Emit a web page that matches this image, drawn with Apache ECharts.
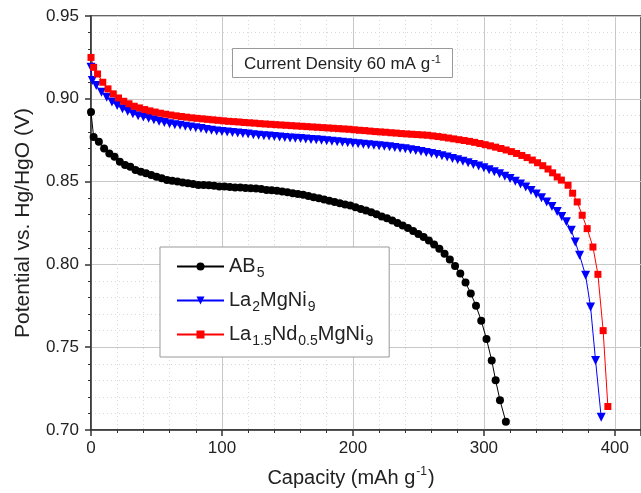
<!DOCTYPE html>
<html>
<head>
<meta charset="utf-8">
<script src="https://cdn.jsdelivr.net/npm/echarts@6/dist/echarts.min.js"></script>
<style>
  html, body { margin: 0; padding: 0; background: #fff; }
  #chart { width: 641px; height: 493px; }
</style>
</head>
<body>
<div id="chart"></div>
<script>
// Discharge curves: capacity (mAh g-1) vs potential (V vs. Hg/HgO)
const seriesNames = ['AB5', 'La2MgNi9', 'La1.5Nd0.5MgNi9'];

const ab5 = [
  [0,0.892],[2,0.877],[6,0.874],[10,0.870],[14,0.867],[18,0.865],[22,0.862],[26,0.860],
  [30,0.859],[34,0.857],[38,0.856],[42,0.855],[46,0.854],[50,0.853],[54,0.852],[58,0.851],
  [62,0.8505],[66,0.850],[70,0.8495],[74,0.849],[78,0.8485],[82,0.848],[86,0.848],[90,0.8478],
  [94,0.8475],[98,0.847],[102,0.847],[106,0.8468],[110,0.8465],[114,0.8465],[118,0.8462],[122,0.846],
  [126,0.8458],[130,0.8455],[134,0.845],[138,0.8448],[142,0.8445],[146,0.844],[150,0.8435],[154,0.843],
  [158,0.8425],[162,0.842],[166,0.8413],[170,0.8405],[174,0.840],[178,0.8392],[182,0.8385],[186,0.8377],
  [190,0.837],[194,0.8362],[198,0.8355],[202,0.8345],[206,0.8335],[210,0.8325],[214,0.8315],[218,0.8303],
  [222,0.829],[226,0.8278],[230,0.8265],[234,0.825],[238,0.8235],[242,0.822],[246,0.8202],[250,0.8183],
  [254,0.8165],[258,0.8145],[262,0.812],[266,0.8095],[270,0.8065],[274,0.803],[278,0.799],[282,0.7945],
  [286,0.789],[290,0.7825],[294,0.775],[298,0.766],[302,0.755],[306,0.742],[309,0.730],[312.3,0.718],
  [316.8,0.705]
];

const la2MgNi9 = [
  [0,0.919],[1,0.911],[4,0.908],[8,0.904],[12,0.901],[16,0.898],[20,0.896],[24,0.894],
  [28,0.8925],[32,0.891],[36,0.8898],[40,0.889],[44,0.8882],[48,0.8873],[52,0.8865],[56,0.8857],
  [60,0.885],[64,0.8844],[68,0.884],[72,0.8834],[76,0.883],[80,0.8825],[84,0.882],[88,0.8815],
  [92,0.881],[96,0.8806],[100,0.8803],[104,0.880],[108,0.8797],[112,0.8793],[116,0.879],[120,0.8787],
  [124,0.8783],[128,0.878],[132,0.8777],[136,0.8775],[140,0.8772],[144,0.877],[148,0.8767],[152,0.8764],
  [156,0.8762],[160,0.876],[164,0.8757],[168,0.8754],[172,0.8752],[176,0.875],[180,0.8747],[184,0.8744],
  [188,0.8741],[192,0.8738],[196,0.8735],[200,0.8732],[204,0.8729],[208,0.8726],[212,0.8723],[216,0.872],
  [220,0.8717],[224,0.8714],[228,0.871],[232,0.8706],[236,0.8702],[240,0.8698],[244,0.8693],[248,0.8688],
  [252,0.8682],[256,0.8676],[260,0.867],[264,0.8663],[268,0.8656],[272,0.8648],[276,0.864],[280,0.8632],
  [284,0.8623],[288,0.8614],[292,0.8604],[296,0.8594],[300,0.8583],[304,0.8572],[308,0.856],[312,0.8547],
  [316,0.8533],[320,0.8518],[324,0.8502],[328,0.8485],[332,0.8467],[336,0.8447],[340,0.8425],[344,0.8402],
  [348,0.8377],[352,0.835],[356,0.832],[359.5,0.829],[363,0.8257],[366.8,0.8206],[369.8,0.8136],[373.1,0.8055],
  [377.7,0.7934],[381.5,0.7742],[385.3,0.742],[389.6,0.7077]
];

const la15Nd05MgNi9 = [
  [0,0.925],[2,0.919],[5,0.915],[9,0.910],[13,0.906],[17,0.903],[21,0.9005],[25,0.8985],
  [29,0.897],[33,0.8955],[37,0.8945],[41,0.8935],[45,0.8927],[49,0.892],[53,0.8913],[57,0.8907],
  [61,0.8902],[65,0.8897],[69,0.8893],[73,0.8889],[77,0.8885],[81,0.8882],[85,0.8879],[89,0.8876],
  [93,0.8873],[97,0.887],[101,0.8867],[105,0.8864],[109,0.8862],[113,0.886],[117,0.8857],[121,0.8855],
  [125,0.8853],[129,0.885],[133,0.8848],[137,0.8846],[141,0.8844],[145,0.8842],[149,0.884],[153,0.8838],
  [157,0.8836],[161,0.8834],[165,0.8832],[169,0.883],[173,0.8828],[177,0.8826],[181,0.8824],[185,0.8822],
  [189,0.882],[193,0.8818],[197,0.8816],[201,0.8813],[205,0.881],[209,0.8808],[213,0.8805],[217,0.8802],
  [221,0.880],[225,0.8798],[229,0.8795],[233,0.8793],[237,0.879],[241,0.8788],[245,0.8786],[249,0.8784],
  [253,0.8782],[257,0.878],[261,0.8776],[265,0.8772],[269,0.8768],[273,0.8763],[277,0.8758],[281,0.8753],
  [285,0.8748],[289,0.8743],[293,0.8737],[297,0.873],[301,0.8723],[305,0.8716],[309,0.8708],[313,0.870],
  [317,0.8691],[321,0.8681],[325,0.867],[329,0.8658],[333,0.8645],[337,0.863],[341,0.8614],[345,0.8596],
  [349,0.8576],[352.5,0.8553],[356,0.8528],[359.2,0.8509],[364.3,0.8478],[367.8,0.843],[371.3,0.8377],[375.1,0.8297],
  [378.9,0.8216],[383.3,0.8105],[387.1,0.794],[391.1,0.760],[394.7,0.7142]
];

const xTicks = { min: 0, max: 420, step: 100 };
const yTicks = { min: 0.70, max: 0.95, step: 0.05 };

// rich-text versions of the formula names (subscripts)
const legendRich = {
  'AB5': '{n|AB}{s|5}',
  'La2MgNi9': '{n|La}{s|2}{n|MgNi}{s|9}',
  'La1.5Nd0.5MgNi9': '{n|La}{s|1.5}{n|Nd}{s|0.5}{n|MgNi}{s|9}'
};

const FONT = 'Liberation Sans, Arial, sans-serif';
const TXT = '#222';

const chart = echarts.init(document.getElementById('chart'), null, { renderer: 'canvas' });

const axisCommon = {
  type: 'value',
  axisLine: { show: true, lineStyle: { color: '#333', width: 1.5 } },
  axisTick: { show: true, inside: false, length: 6, lineStyle: { color: '#333', width: 1.5 } },
  minorTick: { show: true, splitNumber: 5, length: 3, lineStyle: { color: '#333', width: 1 } },
  splitLine: { show: true, lineStyle: { color: '#c8c8c8', width: 1 } },
  minorSplitLine: { show: true, lineStyle: { color: '#d8d8d8', width: 1, type: [1, 3] } }
};

const option = {
  animation: false,
  backgroundColor: '#fff',
  textStyle: { fontFamily: FONT },
  title: {
    text: '{t|Current Density 60 mA g}{sup|-1}',
    left: 232, top: 48,
    padding: [6, 12, 5, 12],
    borderColor: '#999', borderWidth: 1,
    backgroundColor: '#fff',
    textStyle: {
      rich: {
        t: { fontSize: 17, color: TXT, fontFamily: FONT, fontWeight: 'normal' },
        sup: { fontSize: 11, color: TXT, fontFamily: FONT, fontWeight: 'normal', padding: [0, 0, 10, 1] }
      }
    }
  },
  grid: {
    left: 91, top: 16, right: -2, bottom: 63,
    show: true, borderColor: '#333', borderWidth: 1.5, backgroundColor: 'transparent'
  },
  legend: {
    orient: 'vertical',
    left: 160, top: 247,
    padding: [6, 16, 9, 16],
    itemGap: 7,
    itemWidth: 47, itemHeight: 10,
    backgroundColor: '#fff',
    borderColor: '#999', borderWidth: 1,
    data: seriesNames,
    formatter: name => legendRich[name],
    textStyle: {
      color: TXT,
      rich: {
        n: { fontSize: 20, color: TXT, fontFamily: FONT, lineHeight: 25 },
        s: { fontSize: 14, color: TXT, fontFamily: FONT, lineHeight: 25, padding: [13, 0, 0, 1] }
      }
    }
  },
  xAxis: Object.assign({}, axisCommon, {
    min: xTicks.min, max: xTicks.max, interval: xTicks.step,
    axisLabel: { fontSize: 17, color: TXT, margin: 10, showMaxLabel: false, fontFamily: FONT },
    name: '{n|Capacity (mAh g}{sup|-1}{n|)}',
    nameLocation: 'middle',
    nameGap: 36,
    nameTextStyle: {
      padding: [0, 30, 0, 0],
      rich: {
        n: { fontSize: 20, color: TXT, fontFamily: FONT },
        sup: { fontSize: 12, color: TXT, fontFamily: FONT, padding: [0, 1, 12, 1] }
      }
    }
  }),
  yAxis: Object.assign({}, axisCommon, {
    min: yTicks.min, max: yTicks.max, interval: yTicks.step,
    axisLabel: { fontSize: 17, color: TXT, margin: 12, fontFamily: FONT, formatter: v => v.toFixed(2) },
    name: 'Potential vs. Hg/HgO (V)',
    nameLocation: 'middle',
    nameGap: 57,
    nameTextStyle: { fontSize: 21, color: TXT, fontFamily: FONT }
  }),
  series: [
    {
      name: seriesNames[0], type: 'line', data: ab5,
      symbol: 'circle', symbolSize: 8,
      lineStyle: { color: '#000', width: 1 },
      itemStyle: { color: '#000' }
    },
    {
      name: seriesNames[1], type: 'line', data: la2MgNi9,
      symbol: 'triangle', symbolSize: 9, symbolRotate: 180,
      lineStyle: { color: '#0000ff', width: 1 },
      itemStyle: { color: '#0000ff' }
    },
    {
      name: seriesNames[2], type: 'line', data: la15Nd05MgNi9,
      symbol: 'rect', symbolSize: 7,
      lineStyle: { color: '#ff0000', width: 1 },
      itemStyle: { color: '#ff0000' }
    }
  ]
};

chart.setOption(option);
</script>
</body>
</html>
